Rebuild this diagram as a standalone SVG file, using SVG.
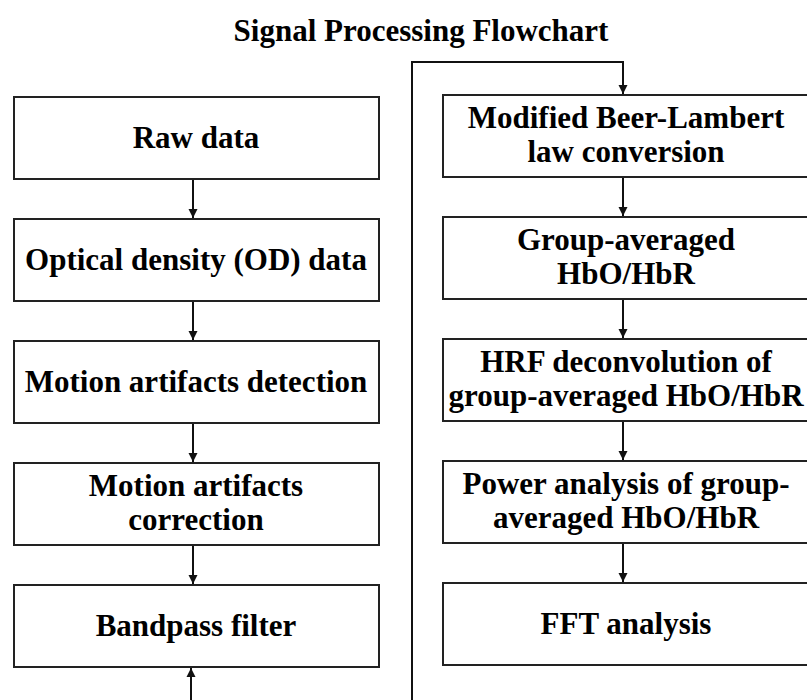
<svg xmlns="http://www.w3.org/2000/svg" width="807" height="700" viewBox="0 0 807 700">
  <style>
    .box { fill: #ffffff; stroke: #222222; stroke-width: 2; }
    .wire { fill: none; stroke: #111111; stroke-width: 2; }
    .lbl { font-family: 'Liberation Serif', 'Times New Roman', serif; font-weight: bold; font-size: 31px; fill: #000000; text-anchor: middle; }
  </style>
  <defs>
    <marker id="arrow" viewBox="0 0 10 10" refX="10" refY="5" markerWidth="4.5" markerHeight="5" orient="auto" markerUnits="strokeWidth">
      <path d="M0,0 L10,5 L0,10 z" fill="#111111"/>
    </marker>
  </defs>

  <rect width="807" height="700" fill="#ffffff"/>

  <text class="lbl" x="421" y="41">Signal Processing Flowchart</text>

  <!-- left column -->
  <g id="raw-data">
    <rect class="box" x="14" y="97" width="365" height="82"/>
    <text class="lbl" x="196" y="148">Raw data</text>
  </g>
  <g id="od-data">
    <rect class="box" x="14" y="219" width="365" height="82"/>
    <text class="lbl" x="196" y="270">Optical density (OD) data</text>
  </g>
  <g id="ma-detection">
    <rect class="box" x="14" y="341" width="365" height="82"/>
    <text class="lbl" x="196" y="392">Motion artifacts detection</text>
  </g>
  <g id="ma-correction">
    <rect class="box" x="14" y="463" width="365" height="82"/>
    <text class="lbl" x="196" y="496">Motion artifacts</text>
    <text class="lbl" x="196" y="530">correction</text>
  </g>
  <g id="bandpass">
    <rect class="box" x="14" y="585" width="365" height="82"/>
    <text class="lbl" x="196" y="636">Bandpass filter</text>
  </g>

  <!-- right column -->
  <g id="mbll">
    <rect class="box" x="443" y="95" width="366" height="82"/>
    <text class="lbl" x="626" y="128">Modified Beer-Lambert</text>
    <text class="lbl" x="626" y="162">law conversion</text>
  </g>
  <g id="group-avg">
    <rect class="box" x="443" y="217" width="366" height="82"/>
    <text class="lbl" x="626" y="250">Group-averaged</text>
    <text class="lbl" x="626" y="284">HbO/HbR</text>
  </g>
  <g id="hrf">
    <rect class="box" x="443" y="339" width="366" height="82"/>
    <text class="lbl" x="626" y="372">HRF deconvolution of</text>
    <text class="lbl" x="626" y="406">group-averaged HbO/HbR</text>
  </g>
  <g id="power">
    <rect class="box" x="443" y="461" width="366" height="82"/>
    <text class="lbl" x="626" y="494">Power analysis of group-</text>
    <text class="lbl" x="626" y="528">averaged HbO/HbR</text>
  </g>
  <g id="fft">
    <rect class="box" x="443" y="583" width="366" height="82"/>
    <text class="lbl" x="626" y="634">FFT analysis</text>
  </g>

  <g id="connectors">
    <line class="wire" x1="193" y1="180" x2="193" y2="218" marker-end="url(#arrow)"/>
    <line class="wire" x1="193" y1="302" x2="193" y2="340" marker-end="url(#arrow)"/>
    <line class="wire" x1="193" y1="424" x2="193" y2="462" marker-end="url(#arrow)"/>
    <line class="wire" x1="193" y1="546" x2="193" y2="584" marker-end="url(#arrow)"/>
    <line class="wire" x1="191" y1="700" x2="191" y2="668" marker-end="url(#arrow)"/>

    <!-- loop from the bottom of the left column over to the right column -->
    <polyline class="wire" points="412,700 412,62 623,62 623,94" marker-end="url(#arrow)"/>

    <line class="wire" x1="623" y1="178" x2="623" y2="216" marker-end="url(#arrow)"/>
    <line class="wire" x1="623" y1="300" x2="623" y2="338" marker-end="url(#arrow)"/>
    <line class="wire" x1="623" y1="422" x2="623" y2="460" marker-end="url(#arrow)"/>
    <line class="wire" x1="623" y1="544" x2="623" y2="582" marker-end="url(#arrow)"/>
  </g>
</svg>
